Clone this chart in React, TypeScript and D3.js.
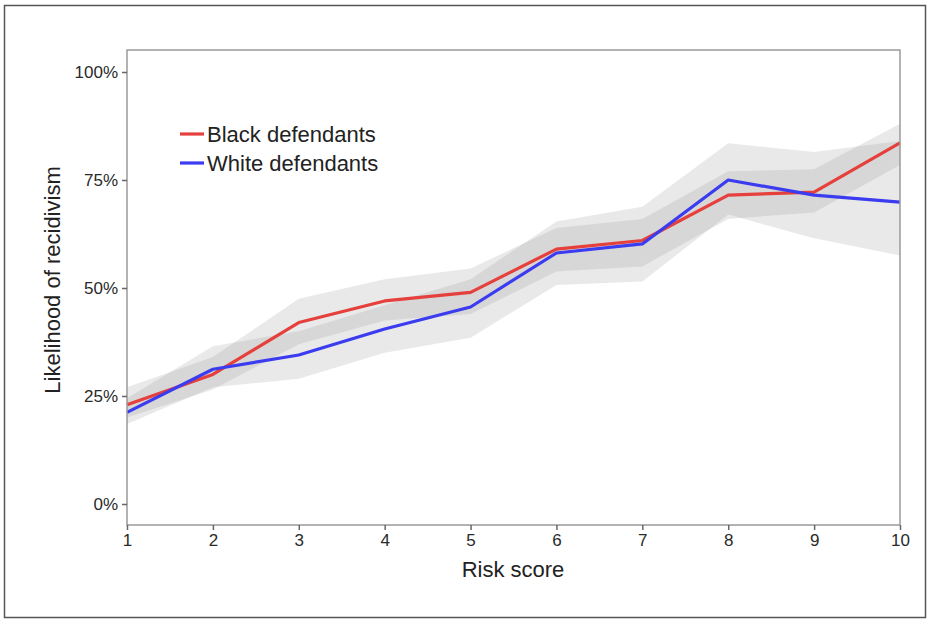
import React, { useEffect, useRef } from "react";
import * as d3 from "d3";

const scores = [1, 2, 3, 4, 5, 6, 7, 8, 9, 10];
const blackRate = [0.23, 0.3, 0.42, 0.47, 0.49, 0.59, 0.61, 0.715, 0.722, 0.836];
const blackLow = [0.2, 0.265, 0.37, 0.425, 0.44, 0.538, 0.55, 0.66, 0.675, 0.785];
const blackHigh = [0.27, 0.34, 0.475, 0.52, 0.545, 0.639, 0.66, 0.77, 0.775, 0.88];
const whiteRate = [0.212, 0.312, 0.345, 0.405, 0.456, 0.581, 0.602, 0.75, 0.715, 0.699];
const whiteLow = [0.185, 0.27, 0.29, 0.35, 0.385, 0.507, 0.515, 0.67, 0.615, 0.575];
const whiteHigh = [0.245, 0.365, 0.4, 0.46, 0.52, 0.654, 0.688, 0.835, 0.815, 0.84];
const yTicks = [0, 0.25, 0.5, 0.75, 1];

const series = [
  { name: "Black defendants", color: "#e5403c", rate: blackRate, low: blackLow, high: blackHigh },
  { name: "White defendants", color: "#3b3bf0", rate: whiteRate, low: whiteLow, high: whiteHigh },
];

export default function App() {
  const ref = useRef<SVGSVGElement>(null);

  useEffect(() => {
    const panel = { left: 127, right: 900, top: 50, bottom: 525 };
    const font = "Liberation Sans, Arial, sans-serif";

    const svg = d3.select(ref.current);
    svg.selectAll("*").remove();

    svg.append("rect")
      .attr("x", 4.5).attr("y", 5.5)
      .attr("width", 921).attr("height", 612)
      .attr("fill", "white").attr("stroke", "#555").attr("stroke-width", 1.5);

    const x = d3.scaleLinear().domain([1, 10]).range([panel.left, panel.right]);
    const y = d3.scaleLinear().domain([0, 1]).range([504, 72]);

    const g = svg.append("g");

    // confidence bands
    series.forEach((s) => {
      const area = d3.area<number>()
        .x((d) => x(d))
        .y0((d, i) => y(s.low[i]))
        .y1((d, i) => y(s.high[i]));
      g.append("path")
        .datum(scores)
        .attr("d", area)
        .attr("fill", "#8f8f8f")
        .attr("fill-opacity", 0.2);
    });

    // lines
    series.forEach((s) => {
      const line = d3.line<number>()
        .x((d) => x(d))
        .y((d, i) => y(s.rate[i]));
      g.append("path")
        .datum(scores)
        .attr("d", line)
        .attr("fill", "none")
        .attr("stroke", s.color)
        .attr("stroke-width", 3.2)
        .attr("stroke-linejoin", "round");
    });

    // panel border
    svg.append("rect")
      .attr("x", panel.left).attr("y", panel.top)
      .attr("width", panel.right - panel.left)
      .attr("height", panel.bottom - panel.top)
      .attr("fill", "none").attr("stroke", "#9a9a9a").attr("stroke-width", 1.5);

    // y axis
    const yAxis = svg.append("g")
      .attr("transform", `translate(${panel.left},0)`)
      .call(d3.axisLeft(y).tickValues(yTicks).tickFormat(d3.format(".0%")).tickSize(5).tickPadding(4));
    yAxis.select(".domain").remove();
    yAxis.selectAll("line").attr("stroke", "#666").attr("stroke-width", 1.5);
    yAxis.selectAll("text")
      .attr("font-family", font).attr("font-size", 17).attr("fill", "#2a2a2a");

    // x axis
    const xAxis = svg.append("g")
      .attr("transform", `translate(0,${panel.bottom})`)
      .call(d3.axisBottom(x).tickValues(scores).tickFormat(d3.format("d")).tickSize(5).tickPadding(4));
    xAxis.select(".domain").remove();
    xAxis.selectAll("line").attr("stroke", "#666").attr("stroke-width", 1.5);
    xAxis.selectAll("text")
      .attr("font-family", font).attr("font-size", 17).attr("fill", "#2a2a2a");

    svg.append("text")
      .attr("x", 513).attr("y", 577)
      .attr("text-anchor", "middle")
      .attr("font-family", font).attr("font-size", 22).attr("fill", "#222")
      .text("Risk score");

    svg.append("text")
      .attr("transform", "translate(60,280) rotate(-90)")
      .attr("text-anchor", "middle")
      .attr("font-family", font).attr("font-size", 22).attr("fill", "#222")
      .text("Likelihood of recidivism");

    // legend
    series.forEach((s, i) => {
      const ly = 134 + i * 29;
      svg.append("line")
        .attr("x1", 180).attr("x2", 204)
        .attr("y1", ly).attr("y2", ly)
        .attr("stroke", s.color).attr("stroke-width", 3.2);
      svg.append("text")
        .attr("x", 207).attr("y", ly + 8)
        .attr("font-family", font).attr("font-size", 22).attr("fill", "#222")
        .text(s.name);
    });
  }, []);

  return (
    <svg
      ref={ref}
      width={931}
      height={621}
      style={{ position: "absolute", left: 0, top: 0 }}
    />
  );
}
